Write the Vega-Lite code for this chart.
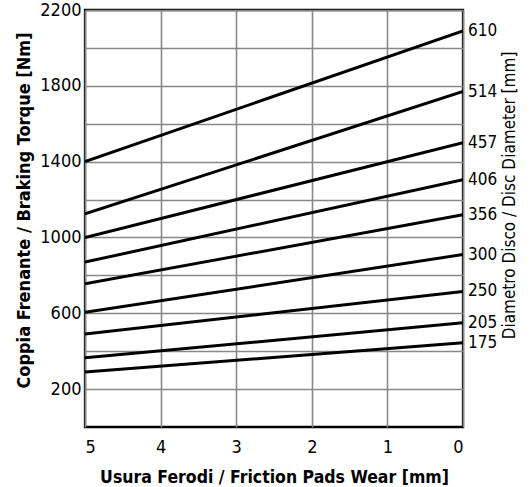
{
  "$schema": "https://vega.github.io/schema/vega-lite/v6.json",
  "width": 378,
  "height": 417,
  "autosize": {"type": "none"},
  "padding": {"left": 85, "top": 10, "right": 69, "bottom": 60},
  "background": "white",
  "config": {
    "font": "DejaVu Sans Condensed",
    "view": {"stroke": "black", "strokeWidth": 2.3},
    "axis": {
      "gridColor": "#888888",
      "gridWidth": 1.6,
      "gridOpacity": 1,
      "domain": false,
      "ticks": false,
      "labelFont": "DejaVu Sans Condensed",
      "labelFontSize": 18,
      "labelColor": "black",
      "titleFont": "DejaVu Sans Condensed",
      "titleColor": "black"
    }
  },
  "data": {
    "values": [
      {"d": "610", "wear": 5, "torque": 1400},
      {"d": "610", "wear": 0, "torque": 2090},
      {"d": "514", "wear": 5, "torque": 1125},
      {"d": "514", "wear": 0, "torque": 1770},
      {"d": "457", "wear": 5, "torque": 1000},
      {"d": "457", "wear": 0, "torque": 1500},
      {"d": "406", "wear": 5, "torque": 870},
      {"d": "406", "wear": 0, "torque": 1305},
      {"d": "356", "wear": 5, "torque": 755},
      {"d": "356", "wear": 0, "torque": 1120},
      {"d": "300", "wear": 5, "torque": 605},
      {"d": "300", "wear": 0, "torque": 910},
      {"d": "250", "wear": 5, "torque": 490},
      {"d": "250", "wear": 0, "torque": 715},
      {"d": "205", "wear": 5, "torque": 365},
      {"d": "205", "wear": 0, "torque": 550},
      {"d": "175", "wear": 5, "torque": 290},
      {"d": "175", "wear": 0, "torque": 445}
    ]
  },
  "resolve": {"axis": {"y": "independent"}},
  "layer": [
    {
      "mark": {"type": "line", "color": "black", "strokeWidth": 3, "clip": true},
      "encoding": {
        "x": {
          "field": "wear", "type": "quantitative",
          "scale": {"domain": [0, 5], "reverse": true, "nice": false},
          "axis": {
            "values": [0, 1, 2, 3, 4, 5],
            "format": "d",
            "labelPadding": 11,
            "title": "Usura Ferodi / Friction Pads Wear [mm]",
            "titleFontSize": 17.5,
            "titleFontWeight": "bold",
            "titlePadding": 12
          }
        },
        "y": {
          "field": "torque", "type": "quantitative",
          "scale": {"domain": [0, 2200], "nice": false, "zero": true},
          "axis": {
            "orient": "left",
            "values": [200, 400, 600, 800, 1000, 1200, 1400, 1600, 1800, 2000, 2200],
            "labelExpr": "datum.value % 400 == 200 ? datum.label : ''",
            "format": "d",
            "labelPadding": 4,
            "title": "Coppia Frenante / Braking Torque [Nm]",
            "titleFontSize": 18,
            "titleFontWeight": "bold",
            "titleY": 200,
            "titlePadding": 6
          }
        },
        "detail": {"field": "d", "type": "nominal"}
      }
    },
    {
      "transform": [{"filter": "datum.wear == 0"}],
      "mark": {"type": "text", "align": "left", "baseline": "middle", "dx": 5, "fontSize": 17, "color": "black", "font": "DejaVu Sans Condensed"},
      "encoding": {
        "x": {"field": "wear", "type": "quantitative"},
        "y": {
          "field": "torque", "type": "quantitative",
          "axis": {
            "orient": "right",
            "labels": false,
            "grid": false,
            "ticks": false,
            "domain": false,
            "title": "Diametro Disco / Disc Diameter [mm]",
            "titleAngle": -90,
            "titleFontSize": 17,
            "titleFontWeight": "normal",
            "titleY": 185,
            "titlePadding": 55
          }
        },
        "text": {"field": "d", "type": "nominal"}
      }
    }
  ]
}
